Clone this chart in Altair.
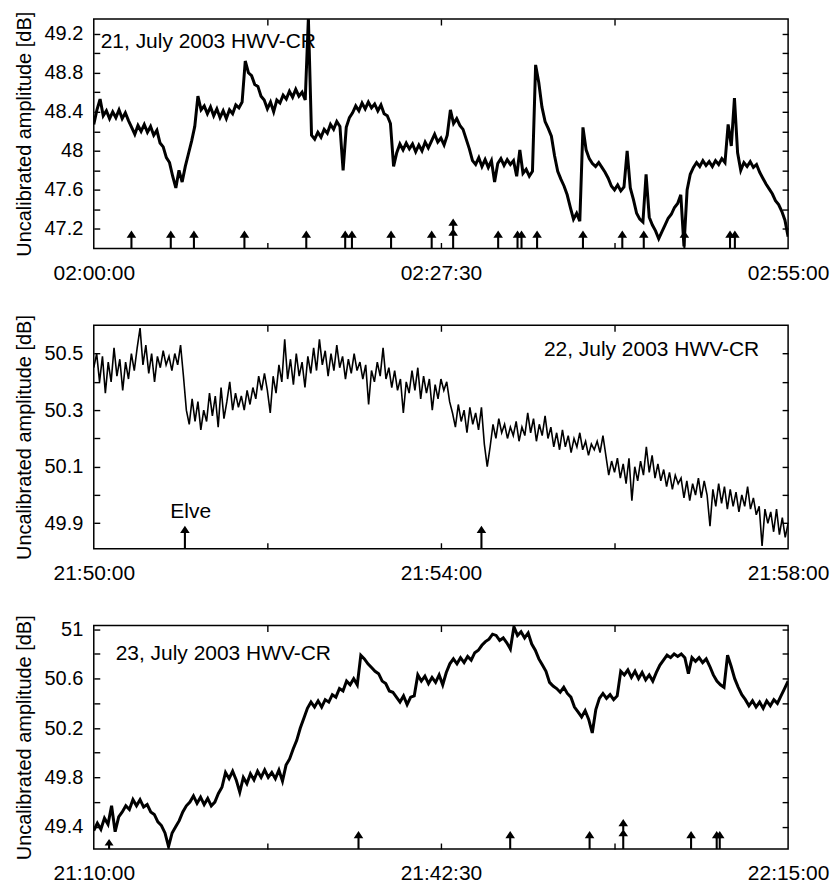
import altair as alt
import pandas as pd

FONT = "Liberation Sans"
Y_TITLE = "Uncalibrated amplitude [dB]"

# ---------------- 21 July 2003, 02:00:00-02:55:00, one sample every 15 s ----------------
STEP_21 = 15
AMP_21 = [
    48.27, 48.42, 48.53, 48.36, 48.41, 48.33, 48.40, 48.34, 48.42, 48.33,
    48.39, 48.31, 48.24, 48.17, 48.26, 48.20, 48.27, 48.19, 48.25, 48.16,
    48.21, 48.08, 48.04, 47.93, 47.88, 47.74, 47.62, 47.80, 47.68, 47.84,
    47.97, 48.10, 48.25, 48.56, 48.42, 48.46, 48.38, 48.45, 48.36, 48.43,
    48.34, 48.41, 48.33, 48.42, 48.38, 48.47, 48.44, 48.50, 48.92, 48.80,
    48.77, 48.68, 48.66, 48.56, 48.52, 48.43, 48.50, 48.40, 48.52, 48.49,
    48.57, 48.53, 48.61, 48.55, 48.63, 48.56, 48.60, 48.52, 49.36, 48.16,
    48.12, 48.19, 48.14, 48.22, 48.18, 48.27, 48.22, 48.30, 48.25, 47.80,
    48.24, 48.34, 48.39, 48.46, 48.41, 48.49, 48.43, 48.50, 48.44, 48.48,
    48.41, 48.47, 48.38, 48.36, 48.28, 47.84, 47.98, 48.07, 48.01, 48.08,
    48.02, 48.07, 47.99, 48.06, 48.00, 48.09, 48.03, 48.10, 48.17, 48.09,
    48.13, 48.06, 48.16, 48.42, 48.28, 48.33, 48.26, 48.22, 48.12, 48.02,
    47.90, 47.86, 47.93, 47.84, 47.91, 47.83, 47.90, 47.68, 47.87, 47.92,
    47.85, 47.91, 47.86, 47.90, 47.74, 48.01, 47.77, 47.81, 47.74, 47.79,
    48.88, 48.70, 48.45, 48.30, 48.23, 48.15, 47.95, 47.79, 47.71, 47.64,
    47.55, 47.42, 47.30, 47.36, 47.28, 48.24, 48.01, 47.92, 47.87, 47.84,
    47.88, 47.83, 47.78, 47.72, 47.64, 47.60, 47.65, 47.59, 47.63, 48.00,
    47.62, 47.50, 47.36, 47.30, 47.27, 47.76, 47.32, 47.24, 47.18, 47.10,
    47.17, 47.24, 47.31, 47.35, 47.42, 47.46, 47.55, 47.02, 47.60, 47.76,
    47.83, 47.88, 47.84, 47.90, 47.85, 47.89, 47.84, 47.90, 47.86, 47.92,
    47.88, 48.27, 48.05, 48.54, 47.98, 47.80, 47.88, 47.84, 47.89, 47.83,
    47.86, 47.78, 47.72, 47.66, 47.61, 47.56, 47.49, 47.45, 47.38, 47.29,
    47.12,
]
SPAN_21 = 3300
Y_RANGE_21 = [47.0, 49.35]
X_TICKS_21 = [0, 1650, 3300]
X_LABELS_21 = ["02:00:00", "02:27:30", "02:55:00"]
X_MINOR_21 = [825, 1650, 2475]
Y_TICKS_21 = [47.2, 47.6, 48.0, 48.4, 48.8, 49.2]
Y_MINOR_21 = [47.2, 47.4, 47.6, 47.8, 48.0, 48.2, 48.4, 48.6, 48.8, 49.0, 49.2]
EVENTS_21 = [179, 366, 476, 716, 1010, 1195, 1227, 1413, 1606, 1708,
             1922, 2014, 2033, 2107, 2325, 2512, 2614, 2807, 3024, 3047]
EVENT_KIND_21 = ["single"] * 9 + ["double"] + ["single"] * 10
NOTES_21 = [{"text": "21, July 2003 HWV-CR", "t": 33, "v": 49.05, "align": "left"}]

# ---------------- 22 July 2003, 21:50:00-21:58:00, one sample every 2 s ----------------
STEP_22 = 2
AMP_22 = [
    50.45, 50.50, 50.40, 50.49, 50.36, 50.47, 50.40, 50.52, 50.42, 50.48,
    50.37, 50.47, 50.41, 50.50, 50.44, 50.52, 50.59, 50.46, 50.53, 50.43,
    50.50, 50.40, 50.49, 50.45, 50.51, 50.46, 50.49, 50.44, 50.50, 50.46,
    50.53, 50.42, 50.30, 50.25, 50.34, 50.26, 50.33, 50.23, 50.30, 50.26,
    50.36, 50.28, 50.35, 50.24, 50.38, 50.27, 50.33, 50.40, 50.30, 50.36,
    50.31, 50.35, 50.30, 50.37, 50.32, 50.38, 50.34, 50.42, 50.37, 50.43,
    50.37, 50.29, 50.42, 50.36, 50.46, 50.40, 50.55, 50.41, 50.48, 50.39,
    50.50, 50.42, 50.47, 50.38, 50.49, 50.43, 50.52, 50.44, 50.55, 50.46,
    50.51, 50.42, 50.50, 50.44, 50.53, 50.45, 50.49, 50.41, 50.48, 50.43,
    50.50, 50.44, 50.47, 50.41, 50.46, 50.32, 50.44, 50.40, 50.47, 50.42,
    50.52, 50.41, 50.45, 50.38, 50.44, 50.37, 50.41, 50.29, 50.40, 50.36,
    50.44, 50.37, 50.45, 50.34, 50.42, 50.36, 50.41, 50.30, 50.39, 50.34,
    50.41, 50.37, 50.40, 50.33, 50.29, 50.24, 50.32, 50.26, 50.30, 50.22,
    50.31, 50.25, 50.29, 50.23, 50.31, 50.18, 50.10, 50.17, 50.25, 50.20,
    50.27, 50.22, 50.25, 50.20, 50.24, 50.21, 50.26, 50.19, 50.24, 50.21,
    50.29, 50.22, 50.27, 50.19, 50.25, 50.21, 50.28, 50.20, 50.24, 50.17,
    50.22, 50.16, 50.23, 50.17, 50.21, 50.15, 50.20, 50.17, 50.22, 50.16,
    50.19, 50.14, 50.18, 50.16, 50.19, 50.15, 50.21, 50.14, 50.07, 50.12,
    50.08, 50.13, 50.06, 50.11, 50.04, 50.13, 49.98, 50.10, 50.05, 50.12,
    50.07, 50.17, 50.08, 50.14, 50.06, 50.11, 50.05, 50.09, 50.03, 50.08,
    50.02, 50.07, 50.04, 50.06, 49.99, 50.05, 49.98, 50.04, 50.00, 50.06,
    49.99, 50.05, 50.00, 49.89, 50.02, 49.96, 50.04, 49.97, 50.03, 49.95,
    50.02, 49.96, 50.01, 49.94, 50.00, 49.96, 50.03, 49.95, 49.99, 49.93,
    49.96, 49.82, 49.95, 49.90, 49.94, 49.87, 49.95, 49.86, 49.92, 49.85,
    49.90,
]
SPAN_22 = 480
Y_RANGE_22 = [49.81, 50.6]
X_TICKS_22 = [0, 240, 480]
X_LABELS_22 = ["21:50:00", "21:54:00", "21:58:00"]
X_MINOR_22 = [120, 240, 360]
Y_TICKS_22 = [49.9, 50.1, 50.3, 50.5]
Y_MINOR_22 = [49.9, 50.0, 50.1, 50.2, 50.3, 50.4, 50.5]
EVENTS_22 = [63, 268]
EVENT_KIND_22 = ["long", "long"]
NOTES_22 = [
    {"text": "22, July 2003 HWV-CR", "t": 460, "v": 50.49, "align": "right"},
    {"text": "Elve", "t": 67, "v": 49.92, "align": "center"},
]

# ---------------- 23 July 2003, 21:10:00-22:15:00, one sample every 20 s ----------------
STEP_23 = 20
AMP_23 = [
    49.37, 49.43, 49.38, 49.47, 49.42, 49.57, 49.36, 49.48, 49.52, 49.57,
    49.54, 49.62, 49.57, 49.62, 49.56, 49.58, 49.52, 49.50, 49.44, 49.41,
    49.35, 49.24, 49.35, 49.40, 49.45, 49.52, 49.57, 49.60, 49.65, 49.59,
    49.64, 49.58, 49.63, 49.57, 49.60, 49.67, 49.72, 49.84, 49.79, 49.85,
    49.78, 49.68, 49.80, 49.75, 49.83, 49.78, 49.85, 49.80, 49.86, 49.80,
    49.84, 49.79, 49.86, 49.77, 49.90, 49.95, 50.03, 50.10, 50.20, 50.28,
    50.36, 50.41, 50.37, 50.42, 50.37, 50.43, 50.41, 50.47, 50.45, 50.52,
    50.50, 50.58, 50.55, 50.60, 50.55, 50.79, 50.76, 50.72, 50.69, 50.66,
    50.64, 50.58, 50.56, 50.50, 50.49, 50.45, 50.41, 50.46, 50.39, 50.45,
    50.46, 50.63, 50.58, 50.62, 50.56, 50.61, 50.57, 50.63, 50.55, 50.65,
    50.72, 50.76, 50.72, 50.77, 50.73, 50.78, 50.75, 50.81, 50.83, 50.87,
    50.90, 50.92, 50.96, 50.95, 50.91, 50.93, 50.89, 50.84, 51.02, 50.95,
    50.98, 50.93, 50.97, 50.88, 50.83, 50.76, 50.71, 50.66, 50.57, 50.54,
    50.52, 50.49, 50.53, 50.48, 50.45, 50.37, 50.33, 50.29, 50.34, 50.27,
    50.16, 50.35, 50.44, 50.48, 50.44, 50.47, 50.43, 50.46, 50.66, 50.63,
    50.67, 50.61, 50.66, 50.60, 50.65, 50.59, 50.63, 50.58, 50.65, 50.71,
    50.75, 50.79, 50.77, 50.80, 50.78, 50.80, 50.77, 50.64, 50.77, 50.74,
    50.77, 50.73, 50.76, 50.70, 50.63, 50.58, 50.55, 50.53, 50.79, 50.70,
    50.60, 50.53, 50.47, 50.43, 50.38, 50.42, 50.37, 50.41, 50.36, 50.42,
    50.38, 50.43, 50.40, 50.46, 50.52, 50.58,
]
SPAN_23 = 3900
Y_RANGE_23 = [49.22, 51.03]
X_TICKS_23 = [0, 1950, 3900]
X_LABELS_23 = ["21:10:00", "21:42:30", "22:15:00"]
X_MINOR_23 = [975, 1950, 2925]
Y_TICKS_23 = [49.4, 49.8, 50.2, 50.6, 51.0]
Y_MINOR_23 = [49.4, 49.6, 49.8, 50.0, 50.2, 50.4, 50.6, 50.8, 51.0]
EVENTS_23 = [86, 1487, 2339, 2785, 2974, 3355, 3499, 3516]
EVENT_KIND_23 = ["short", "single", "single", "single", "double", "single", "single", "single"]
NOTES_23 = [{"text": "23, July 2003 HWV-CR", "t": 123, "v": 50.75, "align": "left"}]

# Event arrows as filled symbol paths; the box bottom (y = 1) sits on the lower frame.
KINDS = ["single", "double", "short", "long"]
ARROW_PATHS = [
    "M-0.065,1 L-0.065,0.325 L-0.3,0.325 L0,-0.125 L0.3,0.325 L0.065,0.325 L0.065,1 Z",
    "M-0.065,1 L-0.065,0.2 L-0.3,0.2 L-0.065,-0.152 L-0.065,-0.425 L-0.3,-0.425 "
    "L0,-0.875 L0.3,-0.425 L0.065,-0.425 L0.065,-0.152 L0.3,0.2 L0.065,0.2 L0.065,1 Z",
    "M-0.065,1 L-0.065,0.775 L-0.28,0.775 L0,0.375 L0.28,0.775 L0.065,0.775 L0.065,1 Z",
    "M-0.065,1 L-0.065,0.01 L-0.3,0.01 L0,-0.44 L0.3,0.01 L0.065,0.01 L0.065,1 Z",
]
ARROW_BOX = 32  # symbol box edge in pixels


def label_expr(values, labels):
    expr = "''"
    for v, lab in reversed(list(zip(values, labels))):
        expr = f"datum.value == {v} ? '{lab}' : ({expr})"
    return expr


def tick_axis(orient, values):
    # inward ticks: a label-free axis pulled inside the frame by its own tick length
    return alt.Axis(orient=orient, values=values, labels=False, domain=False, grid=False,
                    ticks=True, tickSize=6, tickWidth=1.4, tickColor="black",
                    offset=-6, title=None)


def panel(amp, step, span, y_range, x_ticks, x_labels, x_minor, y_ticks, y_fmt,
          y_minor, events, kinds, notes, height, line_width):
    xs = alt.Scale(domain=[0, span], nice=False, zero=False)
    ys = alt.Scale(domain=y_range, nice=False, zero=False)

    trace = pd.DataFrame({"t": [i * step for i in range(len(amp))], "v": amp})
    line = alt.Chart(trace).mark_line(color="black", strokeWidth=line_width,
                                      strokeJoin="miter", clip=True).encode(
        x=alt.X("t:Q", scale=xs, axis=alt.Axis(
            orient="bottom", values=x_ticks, labelExpr=label_expr(x_ticks, x_labels),
            ticks=False, domain=False, grid=False, labelFlush=False,
            labelFont=FONT, labelFontSize=21, labelColor="black", labelPadding=14,
            title=None)),
        y=alt.Y("v:Q", scale=ys, axis=alt.Axis(
            orient="left", values=y_ticks, format=y_fmt,
            ticks=False, domain=False, grid=False,
            labelFont=FONT, labelFontSize=20, labelColor="black", labelPadding=11,
            title=Y_TITLE, titleFont=FONT, titleFontSize=20, titleFontWeight="normal",
            titleColor="black", titlePadding=10)),
    )

    ev = pd.DataFrame({"t": events, "kind": kinds})
    arrows = alt.Chart(ev).mark_point(
        filled=True, color="black", opacity=1, strokeWidth=0,
        size=ARROW_BOX * ARROW_BOX, yOffset=-ARROW_BOX / 2,
    ).encode(
        x=alt.X("t:Q", scale=xs, axis=tick_axis("bottom", x_minor)),
        y=alt.Y(datum=y_range[0], scale=ys, axis=tick_axis("left", y_minor)),
        shape=alt.Shape("kind:N", scale=alt.Scale(domain=KINDS, range=ARROW_PATHS),
                        legend=None),
    )

    layers = [line, arrows]
    for k, note in enumerate(notes):
        df = pd.DataFrame({"t": [note["t"]], "v": [note["v"]], "label": [note["text"]]})
        x_axis = tick_axis("top", x_minor) if k == 0 else None
        y_axis = tick_axis("right", y_minor) if k == 0 else None
        layers.append(
            alt.Chart(df).mark_text(align=note["align"], baseline="alphabetic",
                                    font=FONT, fontSize=21, color="black").encode(
                x=alt.X("t:Q", scale=xs, axis=x_axis),
                y=alt.Y("v:Q", scale=ys, axis=y_axis),
                text="label:N",
            )
        )
    return alt.layer(*layers).resolve_axis(x="independent", y="independent").properties(
        width=696, height=height)


p21 = panel(AMP_21, STEP_21, SPAN_21, Y_RANGE_21, X_TICKS_21, X_LABELS_21, X_MINOR_21,
            Y_TICKS_21, ".1~f", Y_MINOR_21, EVENTS_21, EVENT_KIND_21, NOTES_21, 230, 3.0)
p22 = panel(AMP_22, STEP_22, SPAN_22, Y_RANGE_22, X_TICKS_22, X_LABELS_22, X_MINOR_22,
            Y_TICKS_22, ".1f", Y_MINOR_22, EVENTS_22, EVENT_KIND_22, NOTES_22, 224, 1.6)
p23 = panel(AMP_23, STEP_23, SPAN_23, Y_RANGE_23, X_TICKS_23, X_LABELS_23, X_MINOR_23,
            Y_TICKS_23, ".1~f", Y_MINOR_23, EVENTS_23, EVENT_KIND_23, NOTES_23, 224, 3.0)

chart = alt.vconcat(p21, p22, p23, spacing=77, bounds="flush").configure_view(
    stroke="black", strokeWidth=1.5
).properties(
    padding={"left": 13, "top": 9, "right": 0, "bottom": 0},
    background="white",
)

chart.save("out.html", embed_options={"renderer": "svg", "actions": False})
